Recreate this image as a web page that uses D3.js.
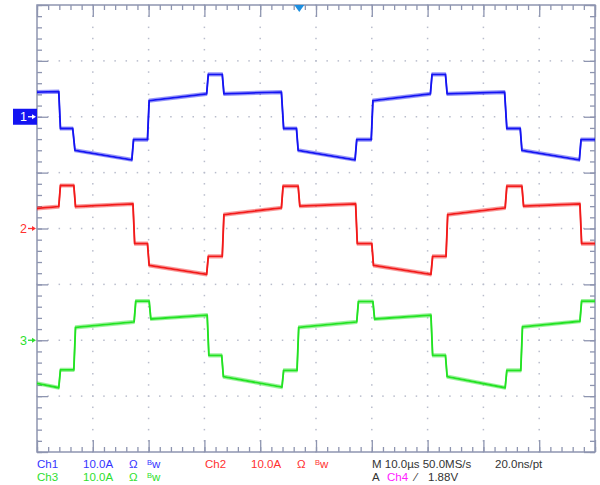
<!DOCTYPE html>
<html>
<head>
<meta charset="utf-8">
<script src="https://cdn.jsdelivr.net/npm/d3@7"></script>
<style>
  html, body { margin: 0; padding: 0; background: #fff; }
  svg { display: block; }
  text { font-family: "Liberation Sans", Arial, sans-serif; }
</style>
</head>
<body>
<svg id="chart" width="600" height="485"></svg>
<script>
// ---- data (time in µs, current in A, 10 µs/div, 10 A/div) ----
const ch1Time = [0, 3.9, 4.2, 6.4, 6.8, 17.0, 17.3, 19.8, 20.1, 30.4, 30.7, 33.2, 33.5, 43.8, 44.2, 46.5, 46.8, 57.0, 57.3, 59.9, 60.2, 70.5, 70.8, 73.2, 73.5, 83.8, 84.2, 86.6, 86.9, 97.2, 97.5, 100];
const ch1Amps = [4.4, 4.5, -2.1, -2.1, -6.0, -7.7, -4.1, -4.1, 2.9, 4.1, 7.6, 7.6, 4.1, 4.4, -2.1, -2.1, -6.0, -7.7, -4.1, -4.1, 2.9, 4.1, 7.6, 7.6, 4.1, 4.4, -2.1, -2.1, -6.0, -7.7, -4.1, -4.1];

const ch2Time = [0, 3.9, 4.2, 6.6, 6.9, 17.2, 17.5, 19.8, 20.1, 30.4, 30.7, 33.2, 33.5, 43.8, 44.1, 46.8, 47.1, 57.1, 57.4, 60.0, 60.3, 70.6, 70.9, 73.3, 73.6, 83.9, 84.2, 86.9, 87.2, 97.3, 97.6, 100];
const ch2Amps = [3.6, 3.9, 7.7, 7.7, 3.9, 4.4, -2.7, -2.7, -6.6, -8.2, -5.0, -5.0, 2.5, 3.7, 7.6, 7.6, 4.0, 4.4, -2.7, -2.7, -6.6, -8.2, -5.0, -5.0, 2.5, 3.7, 7.6, 7.6, 4.0, 4.4, -2.7, -2.7];

const ch3Time = [0, 3.9, 4.2, 6.6, 6.9, 17.4, 17.7, 20.1, 20.4, 30.5, 30.8, 33.1, 33.4, 43.9, 44.2, 46.6, 46.9, 57.3, 57.6, 60.2, 60.5, 70.6, 70.9, 73.2, 73.5, 83.9, 84.2, 86.7, 87.0, 97.3, 97.6, 100];
const ch3Amps = [-7.7, -8.5, -5.3, -5.3, 2.3, 3.3, 7.0, 7.0, 3.8, 4.5, -2.7, -2.7, -6.5, -8.4, -5.4, -5.4, 2.3, 3.3, 6.9, 6.9, 3.8, 4.5, -2.7, -2.7, -6.5, -8.5, -5.4, -5.4, 2.4, 3.4, 7.0, 7.0];

const channelNames = ["Ch1", "Ch2", "Ch3"];
const channelOffsetsDiv = [2, 0, -2];   // ground marker position, divisions above centre
const ampsPerDiv = 10;                   // A/div
const timeRange = [0, 100];              // µs
const statusRow1 = ["Ch1", "10.0A", "Ch2", "10.0A", "M 10.0µs 50.0MS/s", "20.0ns/pt"];
const statusRow2 = ["Ch3", "10.0A", "A", "Ch4", "1.88V"];

// ---- layout ----
const L = 37, R = 595, T = 5, B = 452;
const colors = ["#1414f2", "#f21a1a", "#22e222"];
const textColors = ["#3535ff", "#ff3030", "#2ee02e"];

const svg = d3.select("#chart");
svg.append("rect").attr("width", 600).attr("height", 485).attr("fill", "#fff");

const x = d3.scaleLinear().domain(timeRange).range([L, R]);
const xDiv = d3.scaleLinear().domain([0, 10]).range([L, R]);
const yDiv = d3.scaleLinear().domain([4, -4]).range([T, B]);

// ---- dotted graticule ----
const minorX = d3.range(0, 51).map(i => i / 5);
const minorY = d3.range(0, 41).map(i => i / 5 - 4);
const dots = [];
d3.range(1, 10).forEach(k => minorY.forEach(v => dots.push([xDiv(k), yDiv(v)])));
d3.range(-3, 4).forEach(k => minorX.forEach(u => dots.push([xDiv(u), yDiv(k)])));
svg.append("g").selectAll("rect").data(dots).join("rect")
  .attr("x", d => d[0] - 0.75).attr("y", d => d[1] - 0.75)
  .attr("width", 1.5).attr("height", 1.5).attr("fill", "#b9bdcc");

// ---- border ticks via d3 axes ----
const tickColor = "#8e95b0";
function addAxis(axis, tx, ty) {
  const g = svg.append("g").attr("transform", `translate(${tx},${ty})`).call(axis);
  g.select(".domain").remove();
  g.selectAll("line").attr("stroke", tickColor).attr("stroke-width", 1.3);
  g.selectAll("text").remove();
}
const majorX = d3.range(0, 11);
const majorY = d3.range(-4, 5);
addAxis(d3.axisTop(xDiv).tickValues(minorX).tickSize(-5).tickSizeOuter(0), 0, T);
addAxis(d3.axisTop(xDiv).tickValues(majorX).tickSize(-12).tickSizeOuter(0), 0, T);
addAxis(d3.axisBottom(xDiv).tickValues(minorX).tickSize(-5).tickSizeOuter(0), 0, B);
addAxis(d3.axisBottom(xDiv).tickValues(majorX).tickSize(-12).tickSizeOuter(0), 0, B);
addAxis(d3.axisLeft(yDiv).tickValues(minorY).tickSize(-5).tickSizeOuter(0), L, 0);
addAxis(d3.axisLeft(yDiv).tickValues(majorY).tickSize(-11).tickSizeOuter(0), L, 0);
addAxis(d3.axisRight(yDiv).tickValues(minorY).tickSize(-5).tickSizeOuter(0), R, 0);
addAxis(d3.axisRight(yDiv).tickValues(majorY).tickSize(-11).tickSizeOuter(0), R, 0);

svg.append("rect").attr("x", L).attr("y", T).attr("width", R - L).attr("height", B - T)
  .attr("fill", "none").attr("stroke", tickColor).attr("stroke-width", 1.5);

// ---- traces (noisy look: vertically offset faint copies + thin core) ----
const series = [
  { t: ch1Time, a: ch1Amps },
  { t: ch2Time, a: ch2Amps },
  { t: ch3Time, a: ch3Amps }
];
const line = d3.line();
series.forEach((s, i) => {
  const pts = s.t.map((t, j) => [x(t), yDiv(channelOffsetsDiv[i] + s.a[j] / ampsPerDiv)]);
  [-1.4, 1.4].forEach(dy => {
    svg.append("path").attr("d", line(pts)).attr("transform", `translate(0,${dy})`)
      .attr("fill", "none").attr("stroke", colors[i]).attr("stroke-opacity", 0.45)
      .attr("stroke-width", 1.4).attr("stroke-linejoin", "round");
  });
  svg.append("path").attr("d", line(pts)).attr("fill", "none")
    .attr("stroke", colors[i]).attr("stroke-width", 1.8).attr("stroke-linejoin", "round");
});

// ---- channel ground markers ----
channelOffsetsDiv.forEach((off, i) => {
  const yy = yDiv(off);
  const g = svg.append("g");
  let fg = textColors[i];
  if (i === 0) {
    g.append("rect").attr("x", 13).attr("y", yy - 8).attr("width", 24).attr("height", 16).attr("fill", colors[0]);
    fg = "#fff";
  }
  g.append("text").attr("x", 23.5).attr("y", yy + 4.5).attr("text-anchor", "middle")
    .attr("font-size", 12.5).attr("fill", fg).text(String(i + 1));
  g.append("line").attr("x1", 28).attr("x2", 33).attr("y1", yy).attr("y2", yy)
    .attr("stroke", fg).attr("stroke-width", 1.3);
  g.append("path").attr("d", `M${32},${yy - 2.5}L${36},${yy}L${32},${yy + 2.5}Z`).attr("fill", fg);
});

// ---- trigger position marker ----
svg.append("path").attr("d", `M${x(47.0) - 5},${T}L${x(47.0) + 5},${T}L${x(47.0)},${T + 7}Z`)
  .attr("fill", "#1d8fe0");

// ---- status text ----
const fs = 11.5;
function txt(xx, yy, s, col) {
  return svg.append("text").attr("x", xx).attr("y", yy).attr("font-size", fs).attr("fill", col).text(s);
}
function bw(xx, yy, col) {
  const t = svg.append("text").attr("x", xx).attr("y", yy).attr("font-size", fs).attr("fill", col);
  t.append("tspan").attr("font-size", 7.5).attr("dy", -3).text("B");
  t.append("tspan").attr("dy", 3).text("w");
}
const y1 = 468, y2 = 481;
txt(37, y1, statusRow1[0], textColors[0]);
txt(83, y1, statusRow1[1], textColors[0]);
txt(129, y1, "Ω", textColors[0]);
bw(147, y1, textColors[0]);
txt(205, y1, statusRow1[2], textColors[1]);
txt(251, y1, statusRow1[3], textColors[1]);
txt(297, y1, "Ω", textColors[1]);
bw(315, y1, textColors[1]);
txt(372, y1, statusRow1[4], "#333");
txt(495, y1, statusRow1[5], "#333");

txt(37, y2, statusRow2[0], textColors[2]);
txt(83, y2, statusRow2[1], textColors[2]);
txt(129, y2, "Ω", textColors[2]);
bw(147, y2, textColors[2]);
txt(372, y2, statusRow2[2], "#333");
txt(387, y2, statusRow2[3], "#ff20ff");
txt(415, y2, "⁄", "#333");
txt(428, y2, statusRow2[4], "#333");
</script>
</body>
</html>
